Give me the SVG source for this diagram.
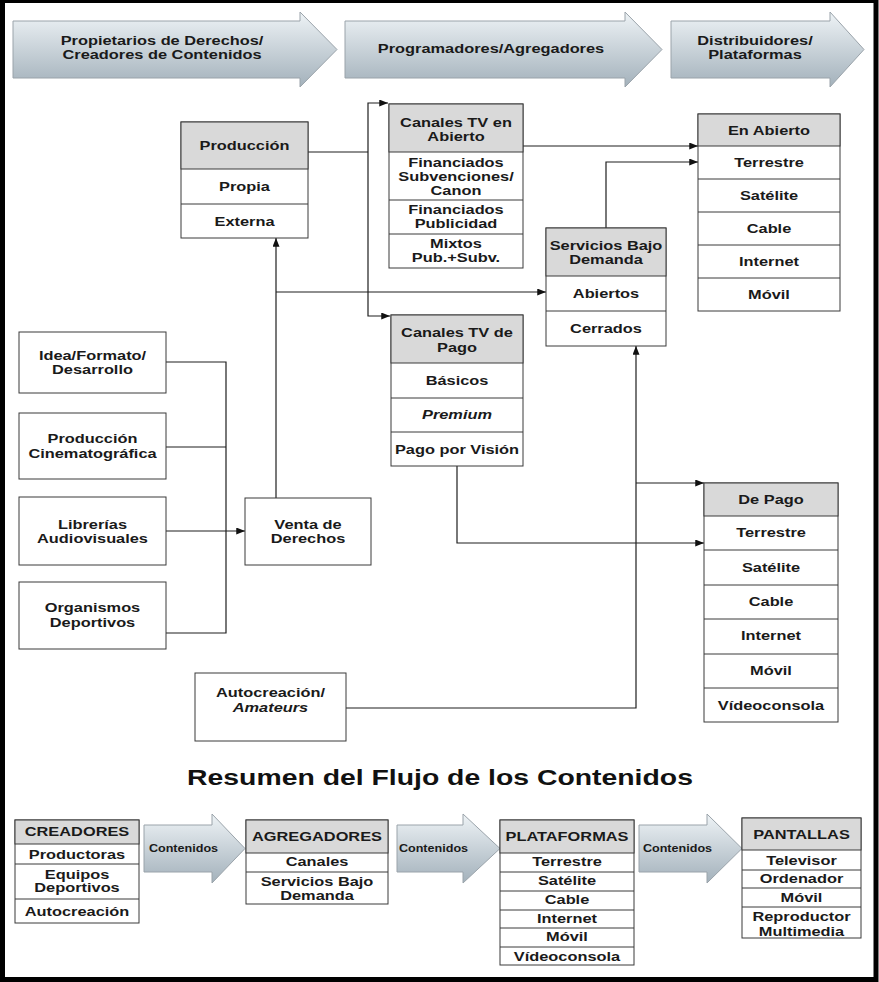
<svg xmlns="http://www.w3.org/2000/svg" width="879" height="982" viewBox="0 0 879 982">
  <style>
    .t { font-family: "Liberation Sans", Arial, sans-serif; font-weight: bold; font-size: 13px; fill: #1a1a1a; text-anchor: middle; }
    .sm { font-size: 10px; }
    .ttl { font-size: 22px; fill: #111; }
    .it { font-style: italic; }
    .box { fill: #ffffff; stroke: #3a3a3a; stroke-width: 1; }
    .hdr { fill: #d9d9d9; stroke: #3a3a3a; stroke-width: 1; }
    .sep { stroke: #3a3a3a; stroke-width: 1; fill: none; }
    .band { fill: url(#bandFill); stroke: #9aa3aa; stroke-width: 1; }
    .con { fill: none; stroke: #1e1e1e; stroke-width: 1.2; }
  </style>
  <defs>
    <linearGradient id="bandFill" x1="0" y1="0" x2="0" y2="1">
      <stop offset="0" stop-color="#eef3f6"/>
      <stop offset="1" stop-color="#a3b1bb"/>
    </linearGradient>
    <marker id="ah" viewBox="0 0 10 8" refX="10" refY="4" markerWidth="9" markerHeight="7" orient="auto" markerUnits="userSpaceOnUse">
      <path d="M0,0 L10,4 L0,8 z" fill="#111"/>
    </marker>
  </defs>

  <rect x="0" y="0" width="879" height="982" fill="#ffffff"/>
  <!-- outer frame -->
  <rect x="2.5" y="0.5" width="873.5" height="979" fill="none" stroke="#000" stroke-width="5"/>

  <!-- stage bands -->
  <g id="stage-propietarios">
    <path class="band" d="M13,21 H300 V12 L337,49.5 L300,87 V78 H13 Z"/>
    <text class="t" transform="translate(162,44.5) scale(1.26,1)"><tspan x="0" y="0">Propietarios de Derechos/</tspan><tspan x="0" y="15">Creadores de Contenidos</tspan></text>
  </g>
  <g id="stage-programadores">
    <path class="band" d="M345,21 H625 V12 L662,49.5 L625,87 V78 H345 Z"/>
    <text class="t" transform="translate(491,52.5) scale(1.26,1)">Programadores/Agregadores</text>
  </g>
  <g id="stage-distribuidores">
    <path class="band" d="M671,21 H830 V12 L864,49.5 L830,87 V78 H671 Z"/>
    <text class="t" transform="translate(755,44.5) scale(1.26,1)"><tspan x="0" y="0">Distribuidores/</tspan><tspan x="0" y="15">Plataformas</tspan></text>
  </g>

  <!-- connectors -->
  <g id="connectors">
    <path class="con" d="M308,152 H368"/>
    <path class="con" d="M368,152 V103 H388" marker-end="url(#ah)"/>
    <path class="con" d="M368,152 V316 H390" marker-end="url(#ah)"/>
    <path class="con" d="M523,146 H698" marker-end="url(#ah)"/>
    <path class="con" d="M606,228 V162 H698" marker-end="url(#ah)"/>
    <path class="con" d="M276,498 V238" marker-end="url(#ah)"/>
    <path class="con" d="M276,292 H546" marker-end="url(#ah)"/>
    <path class="con" d="M166,362 H226 V633 H166"/>
    <path class="con" d="M166,447 H226"/>
    <path class="con" d="M166,531 H245" marker-end="url(#ah)"/>
    <path class="con" d="M457,466 V543 H704" marker-end="url(#ah)"/>
    <path class="con" d="M346,708 H636 V346" marker-end="url(#ah)"/>
    <path class="con" d="M636,483 H704" marker-end="url(#ah)"/>
  </g>

  <!-- Producción -->
  <g id="produccion">
    <rect class="box" x="181" y="122" width="127" height="116"/>
    <rect class="hdr" x="181" y="122" width="127" height="47"/>
    <path class="sep" d="M181,204 H308"/>
    <text class="t" transform="translate(244.5,149.5) scale(1.26,1)">Producción</text>
    <text class="t" transform="translate(244.5,190.5) scale(1.26,1)">Propia</text>
    <text class="t" transform="translate(244.5,225.5) scale(1.26,1)">Externa</text>
  </g>

  <!-- Canales TV en Abierto -->
  <g id="canales-abierto">
    <rect class="box" x="389" y="104" width="134" height="164"/>
    <rect class="hdr" x="389" y="104" width="134" height="48"/>
    <path class="sep" d="M389,200 H523 M389,234 H523"/>
    <text class="t" transform="translate(456,126.5) scale(1.26,1)"><tspan x="0" y="0">Canales TV en</tspan><tspan x="0" y="14.5">Abierto</tspan></text>
    <text class="t" transform="translate(456,166.5) scale(1.26,1)"><tspan x="0" y="0">Financiados</tspan><tspan x="0" y="14.5">Subvenciones/</tspan><tspan x="0" y="29">Canon</tspan></text>
    <text class="t" transform="translate(456,214) scale(1.26,1)"><tspan x="0" y="0">Financiados</tspan><tspan x="0" y="14">Publicidad</tspan></text>
    <text class="t" transform="translate(456,247.5) scale(1.26,1)"><tspan x="0" y="0">Mixtos</tspan><tspan x="0" y="15">Pub.+Subv.</tspan></text>
  </g>

  <!-- En Abierto -->
  <g id="en-abierto">
    <rect class="box" x="698" y="114" width="142" height="197"/>
    <rect class="hdr" x="698" y="114" width="142" height="32"/>
    <path class="sep" d="M698,179 H840 M698,212 H840 M698,245 H840 M698,278 H840"/>
    <text class="t" transform="translate(769,134.5) scale(1.26,1)">En Abierto</text>
    <text class="t" transform="translate(769,167) scale(1.26,1)">Terrestre</text>
    <text class="t" transform="translate(769,200) scale(1.26,1)">Satélite</text>
    <text class="t" transform="translate(769,233) scale(1.26,1)">Cable</text>
    <text class="t" transform="translate(769,266) scale(1.26,1)">Internet</text>
    <text class="t" transform="translate(769,299) scale(1.26,1)">Móvil</text>
  </g>

  <!-- Servicios Bajo Demanda -->
  <g id="servicios-bajo-demanda">
    <rect class="box" x="546" y="228" width="120" height="118"/>
    <rect class="hdr" x="546" y="228" width="120" height="48"/>
    <path class="sep" d="M546,311 H666"/>
    <text class="t" transform="translate(606,249.5) scale(1.26,1)"><tspan x="0" y="0">Servicios Bajo</tspan><tspan x="0" y="15">Demanda</tspan></text>
    <text class="t" transform="translate(606,298) scale(1.26,1)">Abiertos</text>
    <text class="t" transform="translate(606,333) scale(1.26,1)">Cerrados</text>
  </g>

  <!-- Canales TV de Pago -->
  <g id="canales-pago">
    <rect class="box" x="391" y="315" width="132" height="151"/>
    <rect class="hdr" x="391" y="315" width="132" height="48"/>
    <path class="sep" d="M391,398 H523 M391,432 H523"/>
    <text class="t" transform="translate(457,337) scale(1.26,1)"><tspan x="0" y="0">Canales TV de</tspan><tspan x="0" y="15">Pago</tspan></text>
    <text class="t" transform="translate(457,384.5) scale(1.26,1)">Básicos</text>
    <text class="t it" transform="translate(457,418.5) scale(1.26,1)">Premium</text>
    <text class="t" transform="translate(457,453.5) scale(1.26,1)">Pago por Visión</text>
  </g>

  <!-- rights sources -->
  <g id="idea-formato">
    <rect class="box" x="19" y="332" width="147" height="61"/>
    <text class="t" transform="translate(92.5,359.5) scale(1.26,1)"><tspan x="0" y="0">Idea/Formato/</tspan><tspan x="0" y="15">Desarrollo</tspan></text>
  </g>
  <g id="produccion-cinematografica">
    <rect class="box" x="19" y="413" width="147" height="66"/>
    <text class="t" transform="translate(92.5,442.5) scale(1.26,1)"><tspan x="0" y="0">Producción</tspan><tspan x="0" y="16">Cinematográfica</tspan></text>
  </g>
  <g id="librerias">
    <rect class="box" x="19" y="497" width="147" height="68"/>
    <text class="t" transform="translate(92.5,528.5) scale(1.26,1)"><tspan x="0" y="0">Librerías</tspan><tspan x="0" y="15">Audiovisuales</tspan></text>
  </g>
  <g id="organismos-deportivos">
    <rect class="box" x="19" y="582" width="147" height="67"/>
    <text class="t" transform="translate(92.5,611.5) scale(1.26,1)"><tspan x="0" y="0">Organismos</tspan><tspan x="0" y="16">Deportivos</tspan></text>
  </g>
  <g id="venta-derechos">
    <rect class="box" x="245" y="498" width="126" height="67"/>
    <text class="t" transform="translate(308,528.5) scale(1.26,1)"><tspan x="0" y="0">Venta de</tspan><tspan x="0" y="15">Derechos</tspan></text>
  </g>
  <g id="autocreacion">
    <rect class="box" x="195" y="673" width="151" height="68"/>
    <text class="t" transform="translate(270.5,696.5) scale(1.26,1)"><tspan x="0" y="0">Autocreación/</tspan><tspan class="it" x="0" y="16">Amateurs</tspan></text>
  </g>

  <!-- De Pago -->
  <g id="de-pago">
    <rect class="box" x="704" y="483" width="134" height="239"/>
    <rect class="hdr" x="704" y="483" width="134" height="33"/>
    <path class="sep" d="M704,550 H838 M704,585 H838 M704,619 H838 M704,654 H838 M704,688 H838"/>
    <text class="t" transform="translate(771,503.5) scale(1.26,1)">De Pago</text>
    <text class="t" transform="translate(771,537) scale(1.26,1)">Terrestre</text>
    <text class="t" transform="translate(771,572) scale(1.26,1)">Satélite</text>
    <text class="t" transform="translate(771,605.5) scale(1.26,1)">Cable</text>
    <text class="t" transform="translate(771,639.5) scale(1.26,1)">Internet</text>
    <text class="t" transform="translate(771,674.5) scale(1.26,1)">Móvil</text>
    <text class="t" transform="translate(771,709.5) scale(1.26,1)">Vídeoconsola</text>
  </g>

  <!-- summary -->
  <text class="t ttl" transform="translate(440,785) scale(1.29,1)">Resumen del Flujo de los Contenidos</text>

  <g id="creadores">
    <rect class="box" x="15" y="820" width="124" height="103"/>
    <rect class="hdr" x="15" y="820" width="124" height="24"/>
    <path class="sep" d="M15,864 H139 M15,899 H139"/>
    <text class="t" transform="translate(77,836) scale(1.26,1)">CREADORES</text>
    <text class="t" transform="translate(77,858.5) scale(1.26,1)">Productoras</text>
    <text class="t" transform="translate(77,878.5) scale(1.26,1)"><tspan x="0" y="0">Equipos</tspan><tspan x="0" y="13.5">Deportivos</tspan></text>
    <text class="t" transform="translate(77,915.5) scale(1.26,1)">Autocreación</text>
  </g>
  <g id="flujo-1">
    <path class="band" d="M144,825 H212 V814 L245,848.5 L212,883 V872 H144 Z"/>
    <text class="t sm" transform="translate(183.5,852) scale(1.26,1)">Contenidos</text>
  </g>
  <g id="agregadores">
    <rect class="box" x="246" y="820" width="142" height="84"/>
    <rect class="hdr" x="246" y="820" width="142" height="33"/>
    <path class="sep" d="M246,872 H388"/>
    <text class="t" transform="translate(317,840.5) scale(1.26,1)">AGREGADORES</text>
    <text class="t" transform="translate(317,866) scale(1.26,1)">Canales</text>
    <text class="t" transform="translate(317,886) scale(1.26,1)"><tspan x="0" y="0">Servicios Bajo</tspan><tspan x="0" y="14.5">Demanda</tspan></text>
  </g>
  <g id="flujo-2">
    <path class="band" d="M397,825 H463 V814 L500,848.5 L463,883 V872 H397 Z"/>
    <text class="t sm" transform="translate(433.5,852) scale(1.26,1)">Contenidos</text>
  </g>
  <g id="plataformas">
    <rect class="box" x="500" y="820" width="134" height="145"/>
    <rect class="hdr" x="500" y="820" width="134" height="33"/>
    <path class="sep" d="M500,872 H634 M500,891 H634 M500,910 H634 M500,928 H634 M500,947 H634"/>
    <text class="t" transform="translate(567,840.5) scale(1.26,1)">PLATAFORMAS</text>
    <text class="t" transform="translate(567,866) scale(1.26,1)">Terrestre</text>
    <text class="t" transform="translate(567,885) scale(1.26,1)">Satélite</text>
    <text class="t" transform="translate(567,904) scale(1.26,1)">Cable</text>
    <text class="t" transform="translate(567,923) scale(1.26,1)">Internet</text>
    <text class="t" transform="translate(567,941) scale(1.26,1)">Móvil</text>
    <text class="t" transform="translate(567,960.5) scale(1.26,1)">Vídeoconsola</text>
  </g>
  <g id="flujo-3">
    <path class="band" d="M639,825 H707 V814 L742,848.5 L707,883 V872 H639 Z"/>
    <text class="t sm" transform="translate(677.5,852) scale(1.26,1)">Contenidos</text>
  </g>
  <g id="pantallas">
    <rect class="box" x="742" y="818" width="119" height="120"/>
    <rect class="hdr" x="742" y="818" width="119" height="32"/>
    <path class="sep" d="M742,870 H861 M742,888 H861 M742,907 H861"/>
    <text class="t" transform="translate(801.5,838.5) scale(1.26,1)">PANTALLAS</text>
    <text class="t" transform="translate(801.5,864.5) scale(1.26,1)">Televisor</text>
    <text class="t" transform="translate(801.5,883) scale(1.26,1)">Ordenador</text>
    <text class="t" transform="translate(801.5,901.5) scale(1.26,1)">Móvil</text>
    <text class="t" transform="translate(801.5,921) scale(1.26,1)"><tspan x="0" y="0">Reproductor</tspan><tspan x="0" y="15">Multimedia</tspan></text>
  </g>
</svg>
